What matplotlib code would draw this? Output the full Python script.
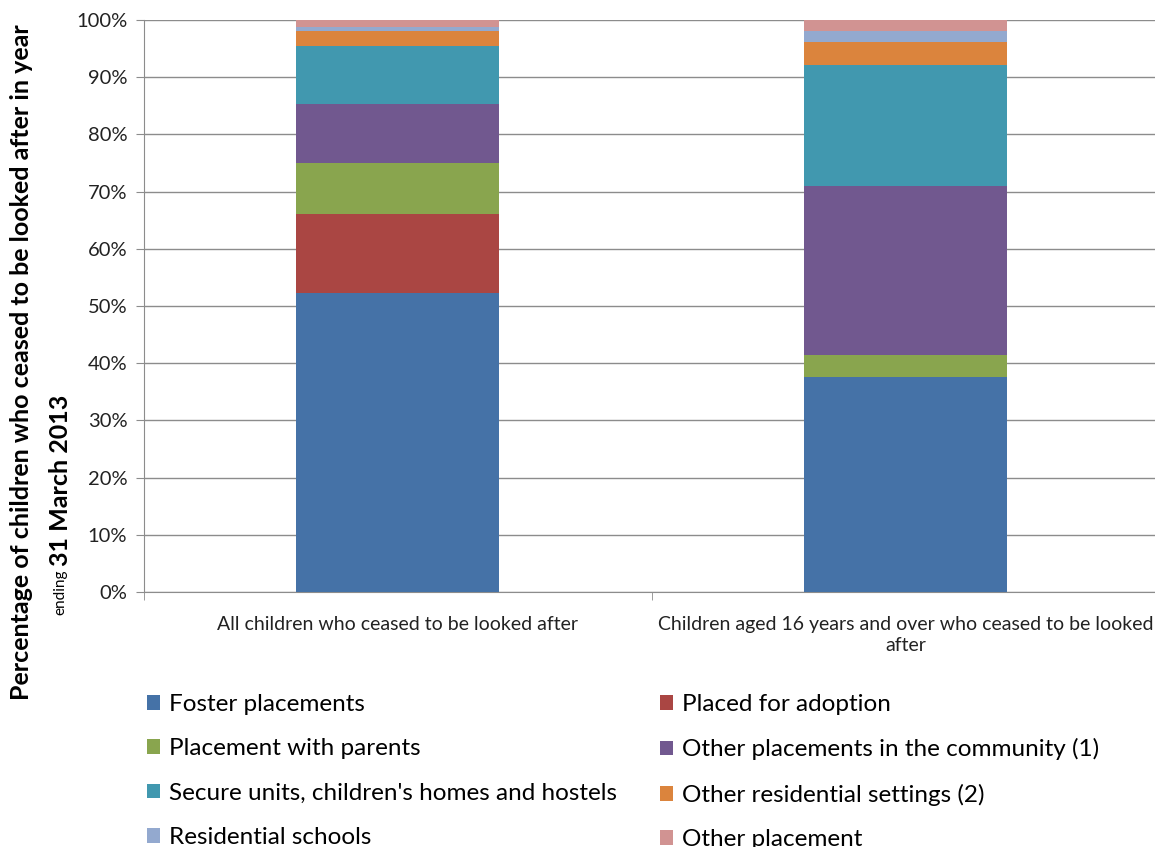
import matplotlib.pyplot as plt
from matplotlib.patches import Patch
from matplotlib.ticker import PercentFormatter, FixedLocator
import numpy as np

categories = ['All children who ceased to be looked after',
              'Children aged 16 years and over who ceased to be looked\nafter']

series = ['Foster placements', 'Placed for adoption', 'Placement with parents',
          'Other placements in the community (1)',
          "Secure units, children's homes and hostels",
          'Other residential settings (2)', 'Residential schools', 'Other placement']

foster = [52.3, 37.6]
adoption = [13.8, 0.0]
parents = [8.9, 3.8]
community = [10.3, 29.6]
secure = [10.2, 21.1]
other_res = [2.5, 4.1]
res_schools = [0.8, 1.9]
other_placement = [1.2, 1.9]

values = [foster, adoption, parents, community, secure, other_res, res_schools, other_placement]
colors = ['#4572A7', '#AA4643', '#89A54E', '#71588F', '#4198AF', '#DB843D', '#93A9CF', '#D19392']

plt.rcParams['font.family'] = ['Lato', 'DejaVu Sans']

fig = plt.figure(figsize=(11.55, 8.47), dpi=100)
ax = fig.add_axes([144 / 1155, 1 - 592 / 847, 1 - 144 / 1155 + 0.004, (592 - 20) / 847])

x = np.arange(len(categories))
bottom = np.zeros(len(categories))
for vals, col, name in zip(values, colors, series):
    ax.bar(x, vals, 0.4, bottom=bottom, color=col, label=name, zorder=3)
    bottom += np.array(vals)

ax.set_xlim(-0.5, 1.5)
ax.set_ylim(0, 100)
ax.set_yticks(np.arange(0, 101, 10))
ax.yaxis.set_major_formatter(PercentFormatter(decimals=0))
ax.grid(axis='y', color='#8c8c8c', linewidth=1, zorder=0)
ax.set_xticks(x)
ax.set_xticklabels(categories, fontsize=14, color='#222222', linespacing=1.3)
ax.xaxis.set_minor_locator(FixedLocator([-0.5, 0.5, 1.5]))
ax.tick_params(axis='x', which='major', length=0, pad=17)
ax.tick_params(axis='x', which='minor', length=6, color='#8c8c8c')
ax.tick_params(axis='y', length=6, color='#8c8c8c', labelsize=14.5, labelcolor='#222222', pad=6)
for s in ['top', 'right']:
    ax.spines[s].set_visible(False)
for s in ['left', 'bottom']:
    ax.spines[s].set_color('#8c8c8c')

# y axis label drawn as figure text
fig.text(22 / 1155, 1 - 362 / 847, 'Percentage of children who ceased to be looked after in year',
         rotation=90, ha='center', va='center', fontsize=18, fontweight='bold')
fig.text(60 / 1155, 1 - 615 / 847, 'ending', rotation=90, ha='center', va='bottom', fontsize=11)
fig.text(60 / 1155, 1 - 566 / 847, '31 March 2013', rotation=90, ha='center', va='bottom',
         fontsize=18, fontweight='bold')

handles = [Patch(facecolor=c, label=n) for c, n in zip(colors, series)]
legend_kw = dict(loc='upper left', frameon=False, fontsize=17.5, handlelength=0.55, handleheight=0.55,
                 handletextpad=0.35, labelspacing=0.96, borderpad=0, borderaxespad=0)
leg1 = fig.legend(handles=handles[0::2], bbox_to_anchor=(147 / 1155, 1 - 694 / 847), **legend_kw)
leg2 = fig.legend(handles=handles[1::2], bbox_to_anchor=(660 / 1155, 1 - 694 / 847), **legend_kw)

fig.savefig('out.png', dpi=100)
